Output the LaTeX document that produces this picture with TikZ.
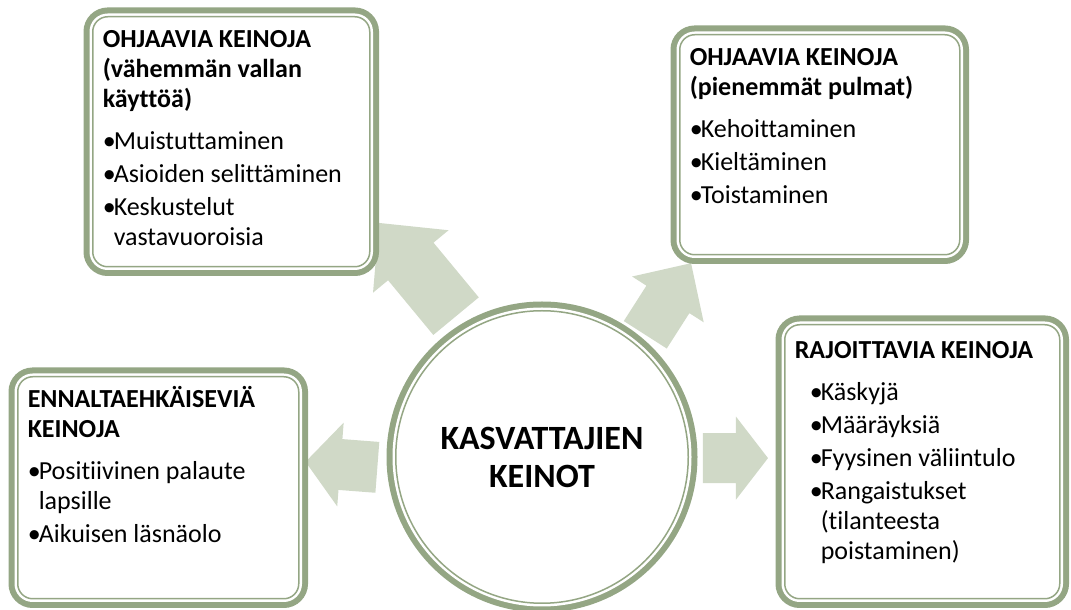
\documentclass[tikz,border=0pt]{standalone}
\usepackage{fontspec}
\setmainfont{Carlito}[Ligatures=NoCommon]
\definecolor{frameg}{HTML}{94A684}
\definecolor{arrowg}{HTML}{D0D9C7}
\newcommand{\ttl}[1]{\textbf{#1}\par\vspace{12pt}}
\newcommand{\itm}[1]{\hangindent=11pt\hangafter=1\noindent\makebox[11pt][l]{•}#1\par\vspace{3pt}}
\newcommand{\bigarrow}[6]{%
  \fill[arrowg,shift={#1},rotate=#2] (0,-#4/2) -- (#3-#6,-#4/2) -- (#3-#6,-#5/2) -- (#3,0)
    -- (#3-#6,#5/2) -- (#3-#6,#4/2) -- (0,#4/2) -- cycle;}
\begin{document}
\begin{tikzpicture}[x=1pt,y=1pt,
  frame/.style={fill=white,draw=frameg,line width=1.5pt,
    preaction={draw=frameg,line width=18.5pt},
    preaction={draw=white,line width=6.5pt}},
  box/.style={frame,rounded corners=15pt,anchor=north west,inner xsep=10pt,inner ysep=10pt,
    font=\fontsize{26pt}{30pt}\selectfont},
  hub/.style={frame,circle,inner sep=0pt,minimum size=292.5pt,align=center,
    font=\bfseries\fontsize{34pt}{38pt}\selectfont}]
\useasboundingbox (0,0) rectangle (1071,610);
\coordinate (o) at (542,153);
% arrows out of the hub
\path (o) ++(121.4:165) coordinate (a1);
\path (o) ++(49.8:160) coordinate (a2);
\path (o) ++(-0.4:161) coordinate (a3);
\path (o) ++(183.6:165) coordinate (a4);
\bigarrow{(a1)}{129.6}{121}{59}{98}{50}
\bigarrow{(a2)}{57.4}{85}{51}{85}{43}
\bigarrow{(a3)}{0}{65}{50}{83}{32}
\bigarrow{(a4)}{175.6}{72}{51}{84}{35}
\node[hub] (hub) at (o) {KASVATTAJIEN\\KEINOT};
% the four boxes
\node[box] (b1) at (92,594) {\parbox[c][230pt][t]{257pt}{\raggedright\strut
  \ttl{OHJAAVIA KEINOJA\\(vähemmän vallan\\käyttöä)}
  \itm{Muistuttaminen}\itm{Asioiden selittäminen}\itm{Keskustelut\newline vastavuoroisia}}};
\node[box] (b2) at (679,576) {\parbox[c][200pt][t]{260pt}{\raggedright\strut
  \ttl{OHJAAVIA KEINOJA\\(pienemmät pulmat)}
  \itm{Kehoittaminen}\itm{Kieltäminen}\itm{Toistaminen}}};
\node[box] (b3) at (17,234) {\parbox[c][202pt][t]{261pt}{\raggedright\strut
  \ttl{ENNALTAEHKÄISEVIÄ\\KEINOJA}
  \itm{Positiivinen palaute\newline lapsille}\itm{Aikuisen läsnäolo}}};
\node[box] (b4) at (784,286) {\parbox[c][254pt][t]{255pt}{\raggedright\vspace*{3pt}\strut
  \ttl{RAJOITTAVIA KEINOJA}\leftskip=15pt
  \itm{Käskyjä}\itm{Määräyksiä}\itm{Fyysinen väliintulo}\itm{Rangaistukset\newline(tilanteesta\newline poistaminen)}}};
\end{tikzpicture}
\end{document}
